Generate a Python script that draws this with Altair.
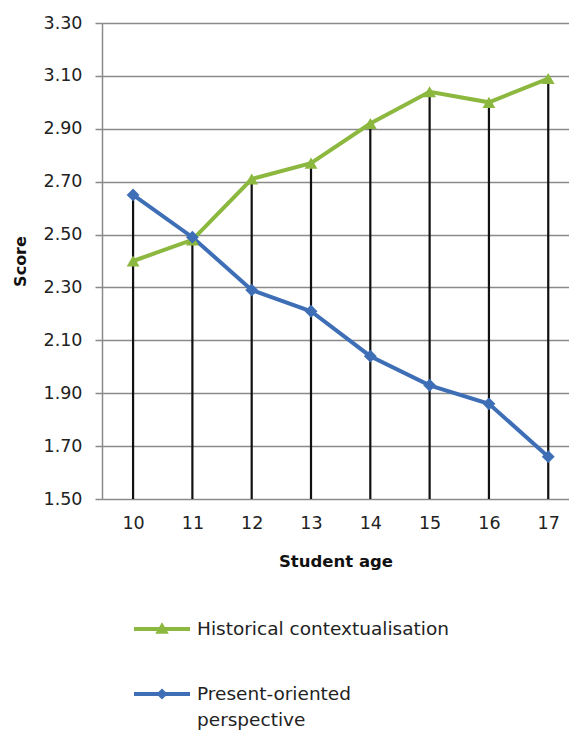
import altair as alt
import pandas as pd

ages = [10, 11, 12, 13, 14, 15, 16, 17]
historical = [2.40, 2.48, 2.71, 2.77, 2.92, 3.04, 3.00, 3.09]
present = [2.65, 2.49, 2.29, 2.21, 2.04, 1.93, 1.86, 1.66]
series_names = ["Historical contextualisation", "Present-oriented perspective"]
colors = ["#8CB83F", "#3E6FB6"]
y_ticks = [1.5, 1.7, 1.9, 2.1, 2.3, 2.5, 2.7, 2.9, 3.1, 3.3]

FONT = "DejaVu Sans"

rows = []
for a, h, p in zip(ages, historical, present):
    rows.append({"age": a, "score": h, "series": series_names[0]})
    rows.append({"age": a, "score": p, "series": series_names[1]})
df = pd.DataFrame(rows)
drop = pd.DataFrame({"age": ages, "top": [max(h, p) for h, p in zip(historical, present)]})

xscale = alt.Scale(domain=[9.476, 17.35], nice=False, zero=False)
yscale = alt.Scale(domain=[1.5, 3.3], nice=False, zero=False)
cscale = alt.Scale(domain=series_names, range=colors)

x_enc = alt.X("age:Q", scale=xscale, axis=alt.Axis(
    values=ages, format="d", title="Student age", grid=False, ticks=False, domain=False,
    labelFont=FONT, labelFontSize=17.5, labelColor="#222", labelPadding=15,
    titleFont=FONT, titleFontSize=16.5, titleFontWeight="bold", titleColor="#111", titlePadding=22))
y_enc = alt.Y("score:Q", scale=yscale, axis=alt.Axis(
    values=y_ticks, format=".2f", title="Score", grid=True, gridColor="#8a8a8a", gridWidth=1.5,
    domainColor="#8a8a8a", domainWidth=1.5, tickColor="#8a8a8a", tickSize=7, tickWidth=1.5,
    labelFont=FONT, labelFontSize=17.5, labelColor="#222", labelPadding=13,
    titleFont=FONT, titleFontSize=16, titleFontWeight="bold", titleColor="#111", titlePadding=15))

rules = alt.Chart(drop).mark_rule(color="#111111", strokeWidth=2.2).encode(
    x=alt.X("age:Q", scale=xscale),
    y=alt.Y("top:Q", scale=yscale),
    y2=alt.datum(1.5),
)

base = alt.Chart(df)
lines = base.mark_line(strokeWidth=4).encode(
    x=x_enc, y=y_enc,
    color=alt.Color("series:N", scale=cscale, legend=None),
)
points = base.mark_point(filled=True, opacity=1, size=165).encode(
    x=alt.X("age:Q", scale=xscale), y=alt.Y("score:Q", scale=yscale),
    color=alt.Color("series:N", scale=cscale, legend=None),
    shape=alt.Shape("series:N", scale=alt.Scale(domain=series_names, range=["triangle-up", "diamond"]), legend=None),
)

tri_path = "M-1,-0.07H1V0.07H-1Z M0,-0.24L0.24,0.17L-0.24,0.17Z"
dia_path = "M-1,-0.07H1V0.07H-1Z M0,-0.2L0.2,0L0,0.2L-0.2,0Z"

legend_kw = dict(
    title=None, orient="none", legendX=32, legendY=578, direction="vertical",
    symbolOpacity=1, symbolStrokeWidth=0, symbolSize=3136, rowPadding=27,
    labelFont=FONT, labelFontSize=18.5, labelColor="#222", labelLimit=400, labelOffset=7,
    labelExpr="datum.label == 'Present-oriented perspective' ? ['Present-oriented', 'perspective'] : datum.label",
)

legend_layer = base.mark_point(filled=True, opacity=0, size=3136).encode(
    x=alt.X("age:Q", scale=xscale), y=alt.Y("score:Q", scale=yscale),
    color=alt.Color("series:N", scale=cscale, legend=alt.Legend(**legend_kw)),
    shape=alt.Shape("series:N", scale=alt.Scale(domain=series_names, range=[tri_path, dia_path]),
                    legend=alt.Legend(**legend_kw)),
)

chart = alt.layer(rules, lines, points, legend_layer).resolve_scale(
    color="independent", shape="independent"
).properties(
    width=467, height=476,
    autosize=alt.AutoSizeParams(type="none"),
    padding={"left": 102, "top": 23, "right": 0, "bottom": 238},
    background="white",
).configure(
    style={"guide-label": {"lineHeight": 26}}
).configure_view(stroke=None)

chart.save("out.html", embed_options={"renderer": "svg", "actions": False})
